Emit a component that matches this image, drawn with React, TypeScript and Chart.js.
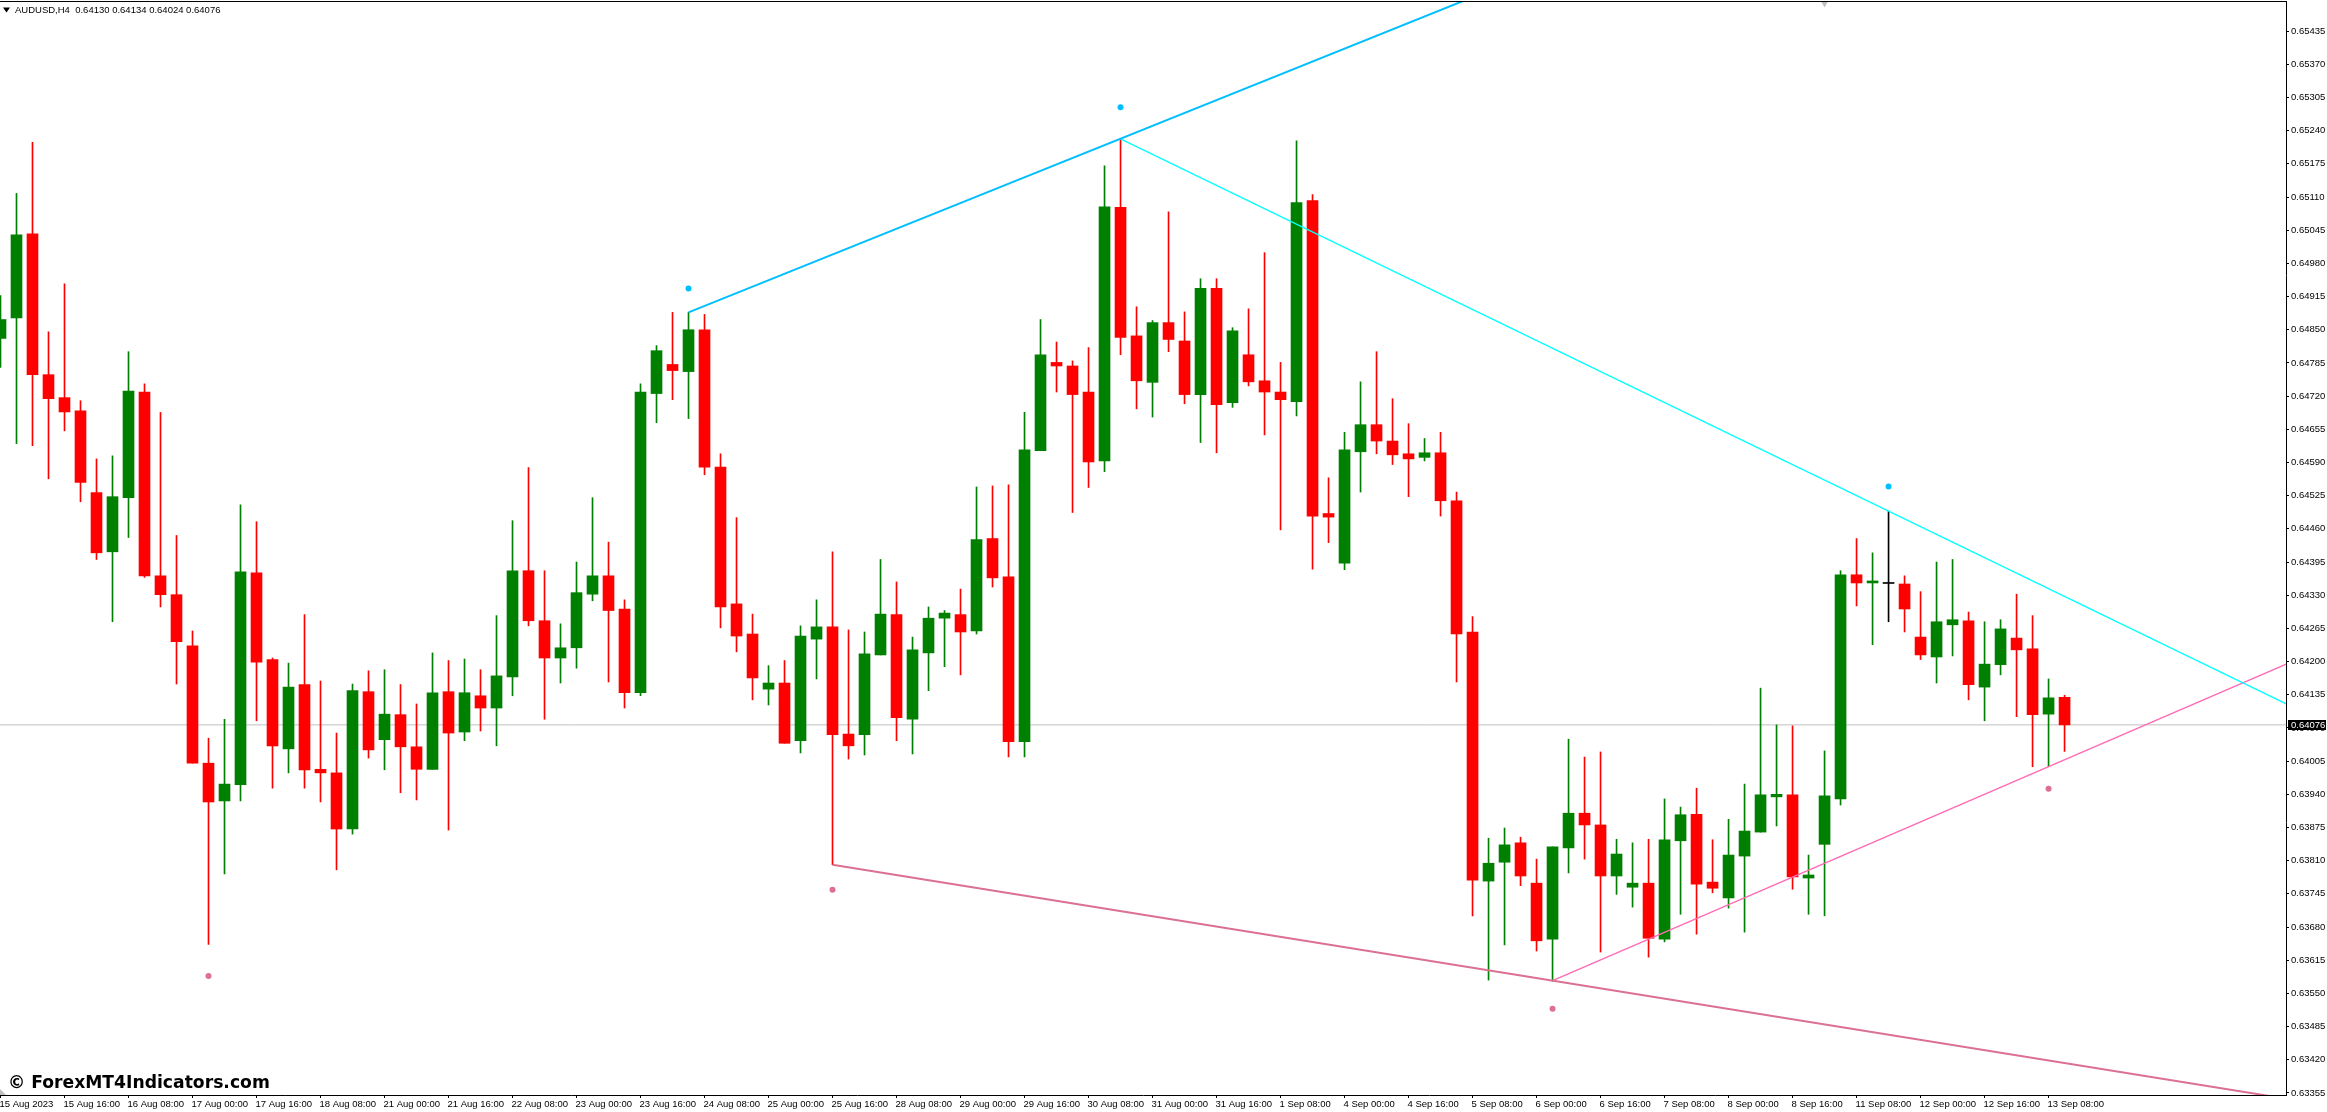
import { useEffect, useRef } from "react";
import { Chart, registerables } from "chart.js";

Chart.register(...registerables);

const opens = [
  0.64833, 0.64873, 0.65038, 0.64762, 0.64717, 0.64691, 0.64531, 0.64415, 0.64521, 0.64728,
  0.64368, 0.64331, 0.64231, 0.64001, 0.63927, 0.63959, 0.64374, 0.64204, 0.64029, 0.64155,
  0.63989, 0.63982, 0.63872, 0.64141, 0.64047, 0.64096, 0.64033, 0.63989, 0.64141, 0.64062,
  0.64133, 0.64109, 0.6417, 0.64378, 0.6428, 0.64207, 0.64227, 0.64332, 0.64368, 0.64303,
  0.64139, 0.64725, 0.64782, 0.64768, 0.6485, 0.64581, 0.64313, 0.64254, 0.64146, 0.64158,
  0.64045, 0.64244, 0.64268, 0.64058, 0.64057, 0.64213, 0.64292, 0.64087, 0.64217, 0.64285,
  0.64292, 0.6426, 0.64441, 0.64366, 0.64043, 0.64613, 0.64786, 0.64779, 0.64728, 0.64593,
  0.6509, 0.64838, 0.64747, 0.64864, 0.64828, 0.64723, 0.64931, 0.64707, 0.64801, 0.6475,
  0.64728, 0.64709, 0.65103, 0.6449, 0.64393, 0.64611, 0.64664, 0.64632, 0.64607, 0.646,
  0.64609, 0.64515, 0.64258, 0.6377, 0.63807, 0.63845, 0.63766, 0.63656, 0.63835, 0.63903,
  0.6388, 0.6378, 0.63758, 0.63766, 0.63656, 0.63849, 0.63901, 0.63768, 0.63737, 0.63819,
  0.63866, 0.63935, 0.63939, 0.63776, 0.63842, 0.63931, 0.6437, 0.64354, 0.64353, 0.64352,
  0.64248, 0.64209, 0.64272, 0.6428, 0.6415, 0.64194, 0.64246, 0.64225, 0.64097, 0.6413,
];
const highs = [
  0.64917, 0.65117, 0.65217, 0.64846, 0.6494, 0.64711, 0.64597, 0.64603, 0.64807, 0.64744,
  0.64688, 0.64447, 0.6426, 0.6405, 0.64087, 0.64507, 0.64474, 0.64207, 0.64197, 0.64292,
  0.64162, 0.6406, 0.64156, 0.64182, 0.64184, 0.64155, 0.64117, 0.64217, 0.64202, 0.64205,
  0.64184, 0.6429, 0.64476, 0.6458, 0.64378, 0.64274, 0.64395, 0.64521, 0.64434, 0.64321,
  0.64744, 0.64819, 0.64884, 0.64884, 0.6488, 0.64607, 0.64482, 0.64293, 0.64192, 0.64202,
  0.6427, 0.64321, 0.64415, 0.64262, 0.64258, 0.644, 0.64356, 0.64248, 0.64307, 0.643,
  0.64342, 0.64542, 0.64544, 0.64546, 0.64688, 0.6487, 0.64826, 0.64789, 0.64815, 0.65171,
  0.65223, 0.64895, 0.64868, 0.65081, 0.64885, 0.6495, 0.6495, 0.64854, 0.64891, 0.65001,
  0.64786, 0.6522, 0.65115, 0.6456, 0.64649, 0.64748, 0.64807, 0.64715, 0.64666, 0.64637,
  0.64649, 0.64532, 0.64288, 0.63854, 0.63874, 0.63856, 0.63813, 0.63837, 0.64048, 0.64013,
  0.64023, 0.63852, 0.63845, 0.63852, 0.63931, 0.63915, 0.63952, 0.63851, 0.63891, 0.6396,
  0.64148, 0.64076, 0.64074, 0.63821, 0.64025, 0.64378, 0.64441, 0.64413, 0.64495, 0.64368,
  0.64337, 0.64395, 0.644, 0.64297, 0.64278, 0.64282, 0.64332, 0.6429, 0.64166, 0.64134,
];
const lows = [
  0.64776, 0.64627, 0.64623, 0.64558, 0.64652, 0.64513, 0.644, 0.64278, 0.64443, 0.64365,
  0.64307, 0.64156, 0.64001, 0.63646, 0.63784, 0.63927, 0.64084, 0.63952, 0.63982, 0.63952,
  0.63925, 0.63792, 0.63862, 0.64011, 0.63988, 0.63943, 0.63929, 0.63989, 0.6387, 0.64045,
  0.64064, 0.64035, 0.64133, 0.6427, 0.64087, 0.64158, 0.64187, 0.64319, 0.6416, 0.64109,
  0.64133, 0.64668, 0.64713, 0.64676, 0.64566, 0.64266, 0.64219, 0.64125, 0.64115, 0.6404,
  0.64021, 0.64166, 0.63802, 0.64009, 0.64017, 0.64213, 0.64045, 0.64019, 0.64143, 0.6419,
  0.64174, 0.64254, 0.64346, 0.64013, 0.64013, 0.64613, 0.64728, 0.64492, 0.64541, 0.64572,
  0.64801, 0.64695, 0.64679, 0.64807, 0.64705, 0.64629, 0.64609, 0.64698, 0.6474, 0.64644,
  0.64458, 0.64681, 0.64381, 0.64433, 0.6438, 0.64532, 0.64607, 0.64586, 0.64523, 0.64593,
  0.64485, 0.6416, 0.63702, 0.63576, 0.63645, 0.63761, 0.63633, 0.63574, 0.63786, 0.63813,
  0.63631, 0.63744, 0.63719, 0.63621, 0.63651, 0.63705, 0.63666, 0.63747, 0.63717, 0.6367,
  0.63866, 0.63878, 0.63754, 0.63705, 0.63702, 0.63919, 0.64309, 0.64233, 0.64278, 0.64258,
  0.64204, 0.64158, 0.64211, 0.64125, 0.64084, 0.64174, 0.64092, 0.63994, 0.63994, 0.64024,
];
const closes = [
  0.6487, 0.65036, 0.64762, 0.64715, 0.64689, 0.64551, 0.64413, 0.64523, 0.6473, 0.64368,
  0.64331, 0.64239, 0.64001, 0.63925, 0.6396, 0.64376, 0.64199, 0.64035, 0.6415, 0.63988,
  0.63982, 0.63872, 0.64143, 0.64027, 0.64097, 0.64033, 0.63989, 0.64139, 0.6406, 0.64139,
  0.64109, 0.64172, 0.64378, 0.6428, 0.64207, 0.64227, 0.64335, 0.64368, 0.643, 0.64139,
  0.64728, 0.64809, 0.6477, 0.6485, 0.64581, 0.64307, 0.6425, 0.64168, 0.64158, 0.6404,
  0.6425, 0.64268, 0.64057, 0.64035, 0.64215, 0.64293, 0.6409, 0.64223, 0.64285, 0.64295,
  0.64258, 0.64439, 0.64364, 0.64043, 0.64615, 0.64801, 0.64779, 0.64723, 0.64591, 0.65091,
  0.64835, 0.6475, 0.64864, 0.64831, 0.64723, 0.64931, 0.64703, 0.64848, 0.64748, 0.64728,
  0.64713, 0.65099, 0.64485, 0.64483, 0.64615, 0.64664, 0.64632, 0.64605, 0.64597, 0.64609,
  0.64515, 0.64254, 0.63772, 0.63805, 0.63841, 0.6378, 0.63653, 0.63837, 0.63903, 0.6388,
  0.6378, 0.63823, 0.63766, 0.63658, 0.63851, 0.639, 0.63764, 0.63756, 0.63821, 0.63868,
  0.63939, 0.6394, 0.63778, 0.63782, 0.63937, 0.6437, 0.64354, 0.64358, 0.64353, 0.64303,
  0.64213, 0.64278, 0.64282, 0.64155, 0.64195, 0.64264, 0.64223, 0.64096, 0.64129, 0.64076,
];

const timeLabels = [
  "15 Aug 2023", "15 Aug 16:00", "16 Aug 08:00", "17 Aug 00:00", "17 Aug 16:00", "18 Aug 08:00",
  "21 Aug 00:00", "21 Aug 16:00", "22 Aug 08:00", "23 Aug 00:00", "23 Aug 16:00", "24 Aug 08:00",
  "25 Aug 00:00", "25 Aug 16:00", "28 Aug 08:00", "29 Aug 00:00", "29 Aug 16:00", "30 Aug 08:00",
  "31 Aug 00:00", "31 Aug 16:00", "1 Sep 08:00", "4 Sep 00:00", "4 Sep 16:00", "5 Sep 08:00",
  "6 Sep 00:00", "6 Sep 16:00", "7 Sep 08:00", "8 Sep 00:00", "8 Sep 16:00", "11 Sep 08:00",
  "12 Sep 00:00", "12 Sep 16:00", "13 Sep 08:00",
];
const BARS_PER_LABEL = 4;

const priceTicks = [
  0.65435, 0.6537, 0.65305, 0.6524, 0.65175, 0.6511, 0.65045, 0.6498, 0.64915, 0.6485, 0.64785,
  0.6472, 0.64655, 0.6459, 0.64525, 0.6446, 0.64395, 0.6433, 0.64265, 0.642, 0.64135, 0.6407,
  0.64005, 0.6394, 0.63875, 0.6381, 0.63745, 0.6368, 0.63615, 0.6355, 0.63485, 0.6342, 0.63355,
];

// trend lines, [bar index, price]
const upperChannel = [[43, 0.64884], [93, 0.65514]];
const upperTrend = [[70, 0.65224], [143, 0.64115]];
const lowerChannel = [[52, 0.63802], [143, 0.63343]];
const lowerTrend = [[97, 0.63575], [143, 0.64197]];

const upperDots = [[43, 0.64931], [70, 0.65286], [118, 0.64543]];
const lowerDots = [[13, 0.63584], [52, 0.63753], [97, 0.6352], [128, 0.63951]];
const periodMarker = [[114, 0.65489]];

const header = "AUDUSD,H4  0.64130 0.64134 0.64024 0.64076";
const watermark = "© ForexMT4Indicators.com";
const lastPrice = closes[closes.length - 1];

const X_MIN = -0.03125;
const X_MAX = 142.84;
const axisFont = { family: "'Liberation Sans'", size: 9.5 };

const toPoints = (list: number[][]) => list.map(([x, y]) => ({ x, y }));
const candleColor = (i: number) =>
  closes[i] > opens[i] ? "#008000" : closes[i] < opens[i] ? "#ff0000" : "#000000";

const overlayPlugin = {
  id: "overlay",
  afterDraw(chart: any) {
    const { ctx, chartArea, scales } = chart;
    ctx.save();
    // top frame line
    ctx.fillStyle = "#000000";
    ctx.fillRect(0, 1, chartArea.right + 1, 1);

    // symbol header
    ctx.beginPath();
    ctx.moveTo(3, 7.5);
    ctx.lineTo(10, 7.5);
    ctx.lineTo(6.5, 12.5);
    ctx.closePath();
    ctx.fill();
    ctx.font = "9.5px 'Liberation Sans'";
    ctx.textBaseline = "middle";
    ctx.textAlign = "left";
    ctx.fillText(header, 15, 10);

    ctx.font = "bold 17.2px 'DejaVu Sans'";
    ctx.fillText(watermark, 8, 1084);

    // corner marker
    ctx.fillStyle = "#c0c0c0";
    ctx.beginPath();
    ctx.moveTo(0, 1089);
    ctx.lineTo(6, 1095);
    ctx.lineTo(0, 1095);
    ctx.closePath();
    ctx.fill();

    // last price tag
    const y = scales.y.getPixelForValue(lastPrice);
    ctx.fillStyle = "#000000";
    ctx.fillRect(chartArea.right + 2, Math.round(y) - 5, 38, 10);
    ctx.fillStyle = "#ffffff";
    ctx.font = "9.5px 'Liberation Sans'";
    ctx.fillText(lastPrice.toFixed(5), chartArea.right + 5, y);
    ctx.restore();
  },
};

export default function App() {
  const canvasRef = useRef<HTMLCanvasElement>(null);

  useEffect(() => {
    if (!canvasRef.current) return;

    const bars = opens.map((_, i) => i);
    const lineSet = (data: number[][], color: string, width: number) => ({
      type: "line" as const,
      data: toPoints(data),
      borderColor: color,
      borderWidth: width,
      pointRadius: 0,
      tension: 0,
      order: 1,
    });
    const dotSet = (data: number[][], color: string) => ({
      type: "line" as const,
      data: toPoints(data),
      showLine: false,
      pointRadius: 3,
      pointBackgroundColor: color,
      pointBorderWidth: 0,
      order: 0,
    });

    const chart = new Chart(canvasRef.current, {
      type: "bar",
      data: {
        datasets: [
          {
            type: "line",
            data: toPoints([[X_MIN, lastPrice], [X_MAX, lastPrice]]),
            borderColor: "#c0c0c0",
            borderWidth: 1,
            pointRadius: 0,
            order: 5,
          },
          {
            data: bars.map((i) => ({ x: i, y: [lows[i], highs[i]] })),
            backgroundColor: bars.map(candleColor),
            barThickness: 1,
            grouped: false,
            order: 4,
          },
          {
            data: bars.map((i) => ({ x: i, y: [opens[i], closes[i]] })),
            backgroundColor: bars.map(candleColor),
            barThickness: 11,
            minBarLength: 1,
            grouped: false,
            order: 3,
          },
          lineSet(upperChannel, "#00bfff", 2),
          lineSet(upperTrend, "#00ffff", 1.3),
          lineSet(lowerChannel, "#db7093", 2),
          lineSet(lowerTrend, "#ff69b4", 1.3),
          dotSet(upperDots, "#00bfff"),
          dotSet(lowerDots, "#db7093"),
          {
            type: "line",
            data: toPoints(periodMarker),
            showLine: false,
            pointStyle: "triangle",
            pointRadius: 4,
            pointRotation: 180,
            pointBackgroundColor: "#c0c0c0",
            pointBorderWidth: 0,
            order: 0,
          },
        ] as any,
      },
      options: {
        responsive: false,
        animation: false,
        devicePixelRatio: 1,
        events: [],
        layout: { autoPadding: false, padding: { top: 2 } },
        plugins: { legend: { display: false }, tooltip: { enabled: false } },
        scales: {
          x: {
            type: "linear",
            min: X_MIN,
            max: X_MAX,
            offset: false,
            afterBuildTicks: (axis: any) => {
              axis.ticks = timeLabels.map((_, i) => ({ value: i * BARS_PER_LABEL }));
            },
            afterFit: (axis: any) => {
              axis.height = 17;
              axis.paddingLeft = 0;
              axis.paddingRight = 0;
            },
            border: { color: "#000000", width: 1 },
            grid: { drawOnChartArea: false, offset: false, tickColor: "#000000", tickLength: 3 },
            ticks: {
              autoSkip: false,
              maxRotation: 0,
              align: "start",
              labelOffset: -1,
              padding: 1,
              color: "#000000",
              font: axisFont,
              callback: (value: any) => timeLabels[Math.round(value / BARS_PER_LABEL)],
            },
          },
          y: {
            type: "linear",
            position: "right",
            min: 0.63351,
            max: 0.65492,
            afterBuildTicks: (axis: any) => {
              axis.ticks = priceTicks.map((value) => ({ value }));
            },
            afterFit: (axis: any) => {
              axis.width = 41;
              axis.paddingTop = 0;
              axis.paddingBottom = 0;
            },
            border: { color: "#000000", width: 1 },
            grid: { drawOnChartArea: false, tickColor: "#000000", tickLength: 3 },
            ticks: {
              autoSkip: false,
              padding: 2,
              color: "#000000",
              font: axisFont,
              callback: (value: any) => Number(value).toFixed(5),
            },
          },
        },
      },
      plugins: [overlayPlugin],
    } as any);

    return () => chart.destroy();
  }, []);

  return (
    <div style={{ position: "fixed", left: 0, top: 0, width: 2327, height: 1112, background: "#ffffff" }}>
      <canvas ref={canvasRef} width={2327} height={1112} style={{ display: "block" }} />
    </div>
  );
}
